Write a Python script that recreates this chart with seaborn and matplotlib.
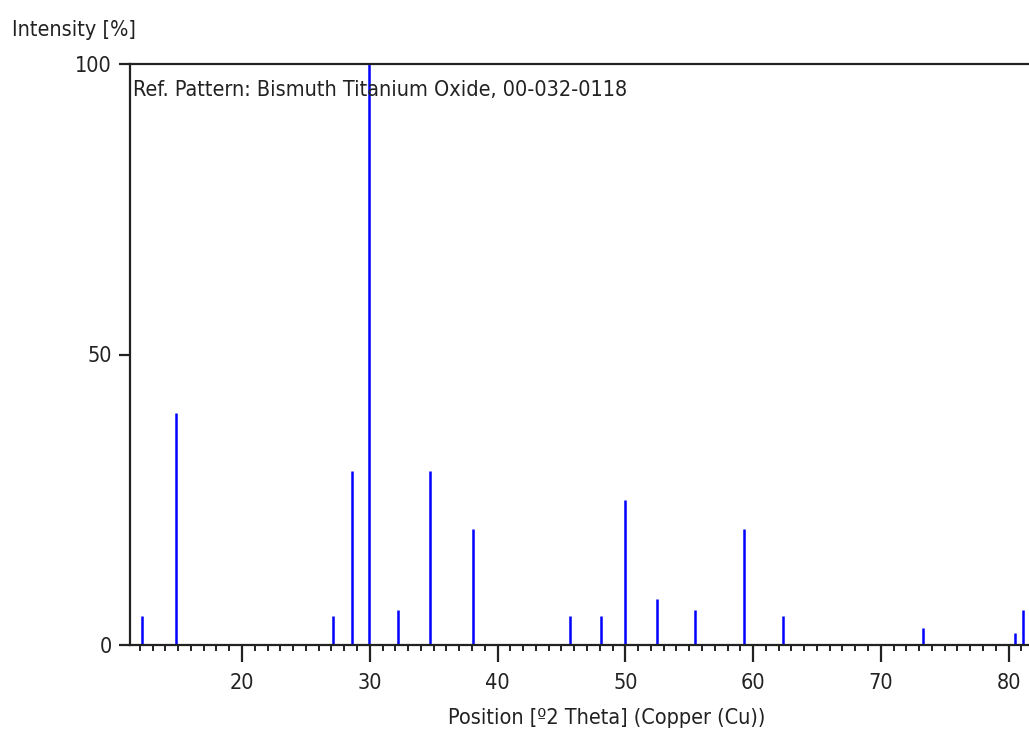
import matplotlib
matplotlib.use("Agg")
import matplotlib.pyplot as plt
from matplotlib.ticker import MultipleLocator
import seaborn as sns

# Reference pattern stick positions (deg 2-theta) and relative intensities (%)
positions = [12.15, 14.83, 27.10, 28.64, 29.90, 32.24, 34.72, 38.04, 45.70,
             48.10, 50.00, 52.47, 55.42, 59.30, 62.34, 73.30, 80.54, 81.10]
intensities = [5, 40, 5, 30, 100, 6, 30, 20, 5,
               5, 25, 8, 6, 20, 5, 3, 2, 6]

title_text = "Ref. Pattern: Bismuth Titanium Oxide, 00-032-0118"
x_label = "Position [º2 Theta] (Copper (Cu))"
y_label = "Intensity [%]"
y_ticks = [0, 50, 100]
x_ticks = [20, 30, 40, 50, 60, 70, 80]

sns.set_style("ticks")
plt.rcParams["font.family"] = ["DejaVu Sans"]
plt.rcParams["font.stretch"] = "condensed"

fig = plt.figure(figsize=(10.29, 7.34), dpi=100)
ax = fig.add_axes([130 / 1029, 89 / 734, 899 / 1029, 581 / 734])

ax.vlines(positions, 0, intensities, colors="#0000ff", linewidth=1.8)

ax.set_xlim(11.23, 81.6)
ax.set_ylim(0, 100)
ax.set_xticks(x_ticks)
ax.set_yticks(y_ticks)
ax.xaxis.set_minor_locator(MultipleLocator(1))

for side in ("left", "bottom", "top"):
    ax.spines[side].set_linewidth(1.6)
    ax.spines[side].set_color("#222222")
ax.spines["right"].set_visible(False)

ax.tick_params(axis="x", which="major", length=12, width=1.6, pad=8,
               labelsize=15.5, colors="#222222")
ax.tick_params(axis="x", which="minor", length=4.5, width=1.4, colors="#222222")
ax.tick_params(axis="y", which="major", length=8, width=1.6, pad=5,
               labelsize=15.5, colors="#222222")

ax.text(133 / 1029, 1 - 90 / 734, title_text, transform=fig.transFigure,
        ha="left", va="center", fontsize=15.5, color="#222222")
fig.text(12 / 1029, 1 - 30 / 734, y_label, ha="left", va="center",
         fontsize=15.5, color="#222222")
fig.text(607 / 1029, 1 - 718 / 734, x_label, ha="center", va="center",
         fontsize=15.5, color="#222222")

fig.savefig("out.png", dpi=100)
